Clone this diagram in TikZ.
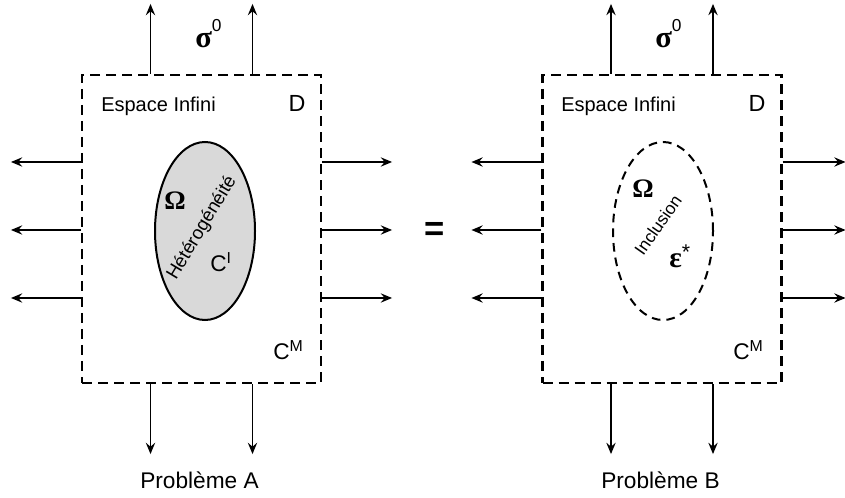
\documentclass[tikz,border=0pt]{standalone}
\usepackage{fontspec}
\setmainfont{Liberation Sans}
\newfontfamily\grkfont{Liberation Serif}
\usetikzlibrary{arrows.meta,positioning,calc,shapes.geometric}

\tikzset{
  domainbox/.style={draw, dash pattern=on 7.5pt off 4.5pt, line width=1.6pt,
    minimum width=179.25pt, minimum height=231pt, inner sep=0pt},
  zonebox/.style={draw, ellipse, line width=1.5pt, minimum width=75pt,
    minimum height=133.5pt, inner sep=0pt},
  loadarrow/.style={-{Stealth[length=8.5pt, width=7pt, inset=3pt]}, line width=1.2pt},
  lbl/.style={font=\fontsize{15}{18}\selectfont, inner sep=0pt},
  grk/.style={font=\fontsize{20}{24}\grkfont\bfseries, inner sep=0pt}
}

\begin{document}
\begin{tikzpicture}[x=0.75pt, y=-0.75pt]
\useasboundingbox (0,0) rectangle (845,498);

% Domains
\node[domainbox] (boxA) at (201.5,229) {};
\node[domainbox] (boxB) at (662,229) {};

% Loads at infinity
\foreach \b in {boxA, boxB} {
  \foreach \dx in {-51, 51} {
    \draw[loadarrow] ($(\b.north)+(\dx,0)$) -- ++(0,-70);
    \draw[loadarrow] ($(\b.south)+(\dx,0)$) -- ++(0,70);
  }
  \foreach \dy in {-67, 1, 69}
    \draw[loadarrow] ($(\b.west)+(0,\dy)$) -- ++(-70,0);
}
\foreach \dy in {-67, 1, 69} {
  \draw[loadarrow] ($(boxA.east)+(0,\dy)$) -- ++(70,0);
  \draw[loadarrow] ($(boxB.east)+(0,\dy)$) -- ++(63,0);
}

% Heterogeneity and inclusion
\node[zonebox, fill=gray!30] (hetA) at (205,231) {};
\node[zonebox, dash pattern=on 6.5pt off 4.5pt] (inclB) at (663,231) {};
\node[lbl, font=\fontsize{14}{16}\selectfont, rotate=59] (hetTxt) at (202,228) {Hétérogénéité};
\node[lbl, font=\fontsize{13}{15}\selectfont, rotate=55] (inclTxt) at (658,225) {Inclusion};

% Labels
\node[lbl, anchor=base west] (infA) at (101,112) {Espace Infini};
\node[lbl, anchor=base west] (infB) at (561,112) {Espace Infini};
\node[lbl, font=\fontsize{17.5}{20}\selectfont] (dA) at (297,103.5) {D};
\node[lbl, font=\fontsize{17.5}{20}\selectfont] (dB) at (757,103.5) {D};
\node[lbl, font=\fontsize{17}{20}\selectfont, anchor=base west] (cmA) at (273,360) {C\textsuperscript{M}};
\node[lbl, font=\fontsize{17}{20}\selectfont, anchor=base west] (cmB) at (733,360) {C\textsuperscript{M}};
\node[lbl, font=\fontsize{17}{20}\selectfont, anchor=base west] (ciA) at (210,272) {C\textsuperscript{I}};
\node[grk, font=\fontsize{23}{26}\grkfont\bfseries, anchor=base west] (sigA) at (195,48) {σ\raisebox{0.55em}{\fontsize{13}{15}\normalfont 0}};
\node[grk, font=\fontsize{23}{26}\grkfont\bfseries, anchor=base west] (sigB) at (655,48) {σ\raisebox{0.55em}{\fontsize{13}{15}\normalfont 0}};
\node[grk] (omA) at (175,201) {Ω};
\node[grk] (omB) at (643,189) {Ω};
\node[grk, font=\fontsize{22}{26}\grkfont\bfseries, anchor=base west] (epsB) at (669,268) {ε\raisebox{0.3em}{\fontsize{16}{18}\normalfont *}};
\node[lbl, font=\fontsize{26}{28}\selectfont\bfseries] (eq) at (435,231) {=};
\node[lbl, font=\fontsize{17}{20}\selectfont, anchor=base west] (pbA) at (140,488) {Problème A};
\node[lbl, font=\fontsize{17}{20}\selectfont, anchor=base west] (pbB) at (601,488) {Problème B};
\end{tikzpicture}
\end{document}
